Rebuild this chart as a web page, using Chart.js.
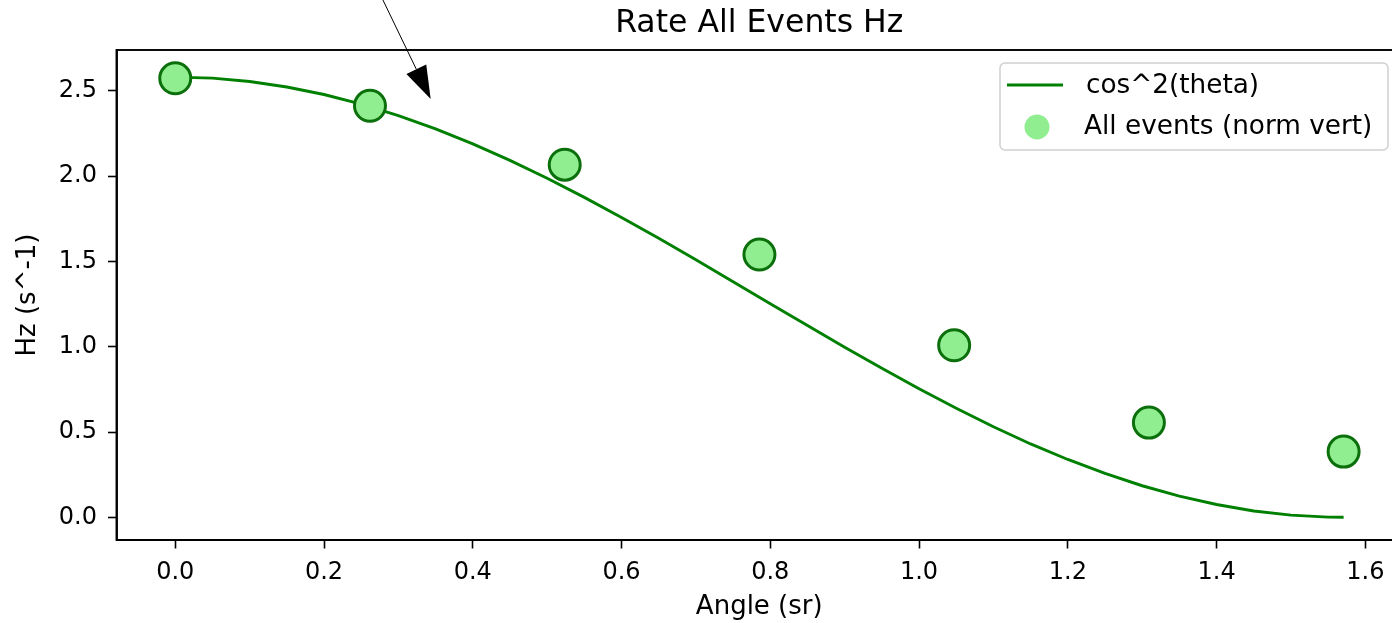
<!DOCTYPE html>
<html>
<head>
<meta charset="utf-8">
<title>Rate All Events Hz</title>
<script src="https://cdn.jsdelivr.net/npm/chart.js@4.4.1/dist/chart.umd.min.js"></script>
<style>
  html, body { margin: 0; padding: 0; background: #ffffff; overflow: hidden; }
  #wrap { width: 1392px; height: 623px; overflow: hidden; }
  canvas { display: block; }
</style>
</head>
<body>
<div id="wrap"><canvas id="rate" width="1518" height="623"></canvas></div>
<script>
// Measured rates at each zenith angle (radians)
const angles = [0, 0.2618, 0.5236, 0.7854, 1.0472, 1.3090, 1.5708];
const rates = [2.573, 2.412, 2.067, 1.540, 1.008, 0.555, 0.385];

// cos^2 model curve, sampled along the angle axis
const curveX = [0, 0.05, 0.10, 0.15, 0.20, 0.25, 0.30, 0.35, 0.40, 0.45, 0.50, 0.55,
  0.60, 0.65, 0.70, 0.75, 0.80, 0.85, 0.90, 0.95, 1.00, 1.05, 1.10, 1.15, 1.20,
  1.25, 1.30, 1.35, 1.40, 1.45, 1.50, 1.55, 1.5708];
const curveY = [2.580, 2.574, 2.554, 2.522, 2.478, 2.422, 2.355, 2.277, 2.189, 2.092,
  1.987, 1.875, 1.757, 1.635, 1.509, 1.381, 1.252, 1.124, 0.997, 0.873, 0.753,
  0.639, 0.531, 0.430, 0.339, 0.257, 0.185, 0.124, 0.075, 0.037, 0.013, 0.001, 0.000];

// Axis ticks
const xTicks = [0.0, 0.2, 0.4, 0.6, 0.8, 1.0, 1.2, 1.4, 1.6];
const yTicks = [0.0, 0.5, 1.0, 1.5, 2.0, 2.5];

// Annotation arrow (tail, head) in data units
const arrowTail = [0.2792, 3.032];
const arrowHead = [0.3434, 2.452];

const chartTitle = 'Rate All Events Hz';
const seriesLabels = ['cos^2(theta)', 'All events (norm vert)'];

const FONT = 'DejaVu Sans';
const LINE_GREEN = '#008000';
const FILL_GREEN = '#90ee90';
const EDGE_GREEN = '#0b6f0b';

// Closed frame around the plotting area
const framePlugin = {
  id: 'frame',
  afterDatasetsDraw(chart) {
    const { ctx, chartArea: a } = chart;
    ctx.save();
    ctx.strokeStyle = '#000';
    ctx.lineWidth = 1.9;
    ctx.strokeRect(a.left, a.top, a.right - a.left, a.bottom - a.top);
    ctx.restore();
  }
};

// Title centred over the plotting area
const plotTitlePlugin = {
  id: 'plotTitle',
  afterDraw(chart) {
    const { ctx, chartArea: a } = chart;
    ctx.save();
    ctx.fillStyle = '#000';
    ctx.font = '31.5px "' + FONT + '"';
    ctx.textAlign = 'center';
    ctx.textBaseline = 'middle';
    ctx.fillText(chartTitle, (a.left + a.right) / 2, a.top - 26);
    ctx.restore();
  }
};

// Legend box in the upper right corner of the plot
const boxLegendPlugin = {
  id: 'boxLegend',
  afterDraw(chart) {
    const { ctx, chartArea: a } = chart;
    const w = 388, h = 87;
    const x0 = a.right - 14 - w, y0 = a.top + 13;
    ctx.save();
    ctx.beginPath();
    ctx.roundRect(x0, y0, w, h, 5);
    ctx.fillStyle = 'rgba(255,255,255,0.8)';
    ctx.fill();
    ctx.strokeStyle = '#d0d0d0';
    ctx.lineWidth = 1.5;
    ctx.stroke();

    const row1 = y0 + 22, row2 = y0 + 64;
    ctx.strokeStyle = LINE_GREEN;
    ctx.lineWidth = 2.8;
    ctx.beginPath();
    ctx.moveTo(x0 + 7, row1);
    ctx.lineTo(x0 + 63, row1);
    ctx.stroke();

    ctx.fillStyle = FILL_GREEN;
    ctx.beginPath();
    ctx.arc(x0 + 37, row2, 12.5, 0, Math.PI * 2);
    ctx.fill();

    ctx.fillStyle = '#000';
    ctx.font = '26.3px "' + FONT + '"';
    ctx.textBaseline = 'middle';
    ctx.textAlign = 'left';
    ctx.fillText(chart.data.datasets[0].label, x0 + 86, row1 + 1);
    ctx.fillText(chart.data.datasets[1].label, x0 + 84, row2);
    ctx.restore();
  }
};

// Arrow annotation pointing at the curve
const arrowPlugin = {
  id: 'arrow',
  afterDraw(chart) {
    const { ctx, scales: { x, y } } = chart;
    const tx = x.getPixelForValue(arrowTail[0]), ty = y.getPixelForValue(arrowTail[1]);
    const hx = x.getPixelForValue(arrowHead[0]), hy = y.getPixelForValue(arrowHead[1]);
    const dx = hx - tx, dy = hy - ty;
    const len = Math.hypot(dx, dy);
    const ux = dx / len, uy = dy / len;
    const headLen = 33, half = 11;
    const bx = hx - ux * headLen, by = hy - uy * headLen;
    ctx.save();
    ctx.strokeStyle = '#000';
    ctx.lineWidth = 1;
    ctx.beginPath();
    ctx.moveTo(tx, ty);
    ctx.lineTo(bx, by);
    ctx.stroke();
    ctx.fillStyle = '#000';
    ctx.beginPath();
    ctx.moveTo(hx, hy);
    ctx.lineTo(bx - uy * half, by + ux * half);
    ctx.lineTo(bx + uy * half, by - ux * half);
    ctx.closePath();
    ctx.fill();
    ctx.restore();
  }
};

const tickFont = { family: FONT, size: 24 };
const labelFont = { family: FONT, size: 26 };
const fmt = v => Number(v).toFixed(1);

new Chart(document.getElementById('rate'), {
  type: 'scatter',
  data: {
    datasets: [
      {
        label: seriesLabels[0],
        data: curveX.map((v, i) => ({ x: v, y: curveY[i] })),
        showLine: true,
        borderColor: LINE_GREEN,
        borderWidth: 2.9,
        pointRadius: 0,
        pointHoverRadius: 0,
        tension: 0,
        order: 1
      },
      {
        label: seriesLabels[1],
        data: angles.map((v, i) => ({ x: v, y: rates[i] })),
        showLine: false,
        backgroundColor: FILL_GREEN,
        borderColor: EDGE_GREEN,
        borderWidth: 3,
        pointRadius: 15.5,
        pointHoverRadius: 15.5,
        order: 0
      }
    ]
  },
  options: {
    responsive: false,
    animation: false,
    devicePixelRatio: 1,
    layout: { padding: { left: 0, right: 116, top: 50, bottom: 0 } },
    plugins: {
      legend: { display: false },
      tooltip: { enabled: false },
      title: { display: false }
    },
    scales: {
      x: {
        type: 'linear',
        min: -0.079,
        max: 1.6493,
        afterFit(scale) { scale.height = 83; },
        afterBuildTicks(scale) { scale.ticks = xTicks.map(v => ({ value: v })); },
        border: { display: true, color: '#000', width: 1.9 },
        grid: { drawOnChartArea: false, drawTicks: true, tickLength: 8.5, tickWidth: 1.6, tickColor: '#000' },
        ticks: { color: '#000', font: tickFont, padding: 10, maxRotation: 0, autoSkip: false, callback: fmt },
        title: {
          display: true, text: 'Angle (sr)', color: '#000',
          font: labelFont, padding: { top: 0, bottom: 0.5 }
        }
      },
      y: {
        type: 'linear',
        min: -0.133,
        max: 2.739,
        afterFit(scale) { scale.width = 116.5; },
        afterBuildTicks(scale) { scale.ticks = yTicks.map(v => ({ value: v })); },
        border: { display: true, color: '#000', width: 1.9 },
        grid: { drawOnChartArea: false, drawTicks: true, tickLength: 8.5, tickWidth: 1.6, tickColor: '#000' },
        ticks: { color: '#000', font: tickFont, padding: 11, autoSkip: false, callback: fmt },
        title: {
          display: true, text: 'Hz (s^-1)', color: '#000',
          font: labelFont, padding: { top: 12.5, bottom: 0 }
        }
      }
    }
  },
  plugins: [framePlugin, plotTitlePlugin, boxLegendPlugin, arrowPlugin]
});
</script>
</body>
</html>
